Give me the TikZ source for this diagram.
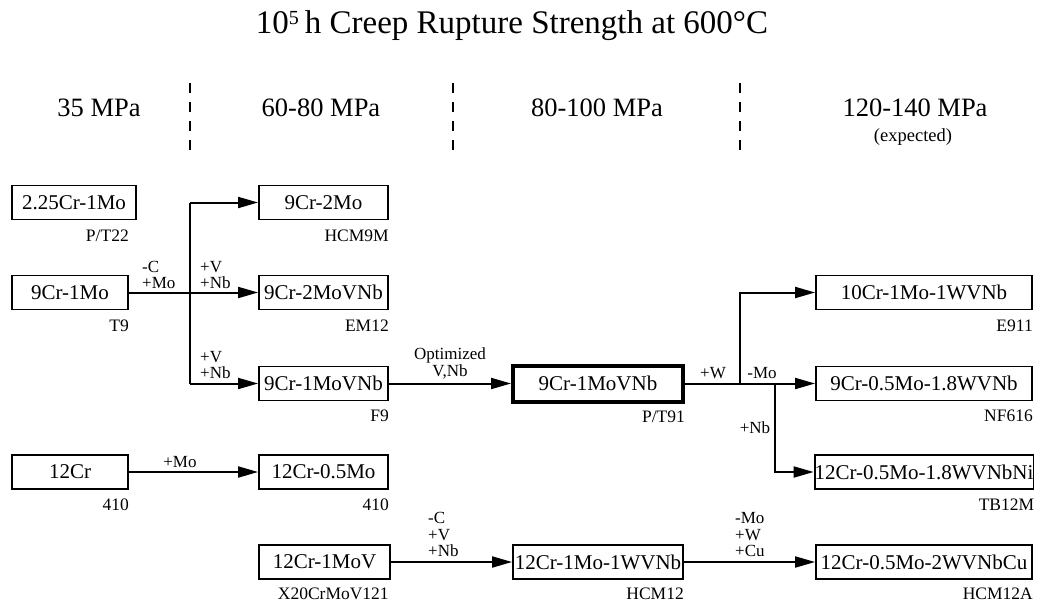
\documentclass[tikz,border=0pt]{standalone}
\usepackage{fontspec}
\setmainfont{Liberation Serif}
\usetikzlibrary{arrows.meta,calc}
\begin{document}
\begin{tikzpicture}[x=1pt,y=-1pt,
  box/.style={draw, line width=1.9pt, minimum height=34pt, inner sep=0pt, font=\fontsize{21}{22}\selectfont},
  lbl/.style={inner sep=0pt, font=\fontsize{17.5}{18}\selectfont},
  clbl/.style={inner sep=0pt, align=left, font=\fontsize{17}{16.5}\selectfont},
  hdr/.style={inner sep=0pt, font=\fontsize{26.5}{28}\selectfont},
  conn/.style={line width=2pt},
  arr/.style={line width=2pt, -{Triangle[length=20pt,width=11pt]}},
  sep/.style={line width=1.6pt, dash pattern=on 10pt off 9pt}]
\useasboundingbox (0,0) rectangle (1046,605);
% title
\node[inner sep=0pt, font=\fontsize{33}{35}\selectfont] (title) at (512,26) {10\textsuperscript{\fontsize{20}{20}\selectfont 5}\,h Creep Rupture Strength at 600°C};
% headers
\node[hdr] (h1) at (99,108) {35 MPa};
\node[hdr] (h2) at (321,108) {60-80 MPa};
\node[hdr] (h3) at (597,108) {80-100 MPa};
\node[hdr] (h4) at (915,108) {120-140 MPa};
\node[lbl, font=\fontsize{18.5}{19}\selectfont] (h4b) at (913,137) {(expected)};
\coordinate (s1a) at (190,83); \coordinate (s1b) at (190,153);
\coordinate (s2a) at (453,83); \coordinate (s2b) at (453,153);
\coordinate (s3a) at (740,83); \coordinate (s3b) at (740,153);
\draw[sep] (s1a) -- (s1b);
\draw[sep] (s2a) -- (s2b);
\draw[sep] (s3a) -- (s3b);
% boxes
\node[box, minimum width=124pt] (b22) at (74,202.5) {2.25Cr-1Mo};
\node[box, minimum width=116pt] (b91) at (70,292.5) {9Cr-1Mo};
\node[box, minimum width=129pt] (b92) at (323.5,202.5) {9Cr-2Mo};
\node[box, minimum width=129pt] (bEM) at (323.5,292.5) {9Cr-2MoVNb};
\node[box, minimum width=129pt] (bF9) at (323.5,383.5) {9Cr-1MoVNb};
\node[box, minimum width=116pt] (b12) at (70,472) {12Cr};
\node[box, minimum width=129pt] (b1205) at (323.5,472) {12Cr-0.5Mo};
\node[box, minimum width=131pt] (bX20) at (324.5,562) {12Cr-1MoV};
\node[box, minimum width=170pt] (bHC12) at (598,562) {12Cr-1Mo-1WVNb};
\node[box, minimum width=216pt] (bHC12A) at (924,562) {12Cr-0.5Mo-2WVNbCu};
\node[box, minimum width=170pt, minimum height=36pt, line width=4pt] (bT91) at (598,383.5) {9Cr-1MoVNb};
\node[box, minimum width=216pt] (bE911) at (924,292.5) {10Cr-1Mo-1WVNb};
\node[box, minimum width=216pt] (bNF) at (924,383.5) {9Cr-0.5Mo-1.8WVNb};
\node[box, minimum width=216pt] (bTB) at (924,472) {12Cr-0.5Mo-1.8WVNbNi};
% designations
\node[lbl, anchor=north east] (l22) at ([xshift=-8pt,yshift=-9pt]b22.south east) {P/T22};
\node[lbl, anchor=north east] (l91) at ([yshift=-9pt]b91.south east) {T9};
\node[lbl, anchor=north east] (l92) at ([yshift=-9pt]b92.south east) {HCM9M};
\node[lbl, anchor=north east] (lEM) at ([yshift=-9pt]bEM.south east) {EM12};
\node[lbl, anchor=north east] (lF9) at ([yshift=-8pt]bF9.south east) {F9};
\node[lbl, anchor=north east] (l12) at ([yshift=-9pt]b12.south east) {410};
\node[lbl, anchor=north east] (l1205) at ([yshift=-9pt]b1205.south east) {410};
\node[lbl, anchor=north east] (lX20) at ([xshift=-2pt,yshift=-8pt]bX20.south east) {X20CrMoV121};
\node[lbl, anchor=north east] (lHC12) at ([yshift=-8pt]bHC12.south east) {HCM12};
\node[lbl, anchor=north east] (lHC12A) at ([yshift=-8pt]bHC12A.south east) {HCM12A};
\node[lbl, anchor=north east] (lT91) at ([yshift=-7pt]bT91.south east) {P/T91};
\node[lbl, anchor=north east] (lE911) at ([yshift=-9pt]bE911.south east) {E911};
\node[lbl, anchor=north east] (lNF) at ([yshift=-8pt]bNF.south east) {NF616};
\node[lbl, anchor=north east] (lTB) at ([yshift=-9pt]bTB.south east) {TB12M};
% connectors
\coordinate (jt) at (190,202.5);
\coordinate (jb) at (190,383.5);
\draw[conn] (jt) -- (jb);
\draw[arr] (jt) -- (b92.west);
\draw[arr] (jb) -- (bF9.west);
\draw[arr] (b91.east) -- (bEM.west);
\draw[arr] (bF9.east) -- (bT91.west);
\draw[arr] (bT91.east) -- (bNF.west);
\coordinate (jw) at (740,383.5);
\coordinate (jn) at (775,383.5);
\draw[arr] (jw) |- (bE911.west);
\draw[arr] (jn) |- (bTB.west);
\draw[arr] (b12.east) -- (b1205.west);
\draw[arr] (bX20.east) -- (bHC12.west);
\draw[arr] (bHC12.east) -- (bHC12A.west);
% connector labels
\node[clbl, anchor=south west] (c1) at (142,289) {-C\\+Mo};
\node[clbl, anchor=south west] (c2) at (200,289) {+V\\+Nb};
\node[clbl, anchor=south west] (c3) at (200,379) {+V\\+Nb};
\node[clbl, anchor=south, align=center] (c4) at (450,379) {Optimized\\V,Nb};
\node[clbl, anchor=south] (c5) at (713,379) {+W};
\node[clbl, anchor=south] (c6) at (762,379) {-Mo};
\node[clbl] (c7) at (755,428) {+Nb};
\node[clbl, anchor=south] (c8) at (180,468) {+Mo};
\node[clbl, anchor=south west] (c9) at (428,557) {-C\\+V\\+Nb};
\node[clbl, anchor=south west] (c10) at (735,557) {-Mo\\+W\\+Cu};
\end{tikzpicture}
\end{document}
